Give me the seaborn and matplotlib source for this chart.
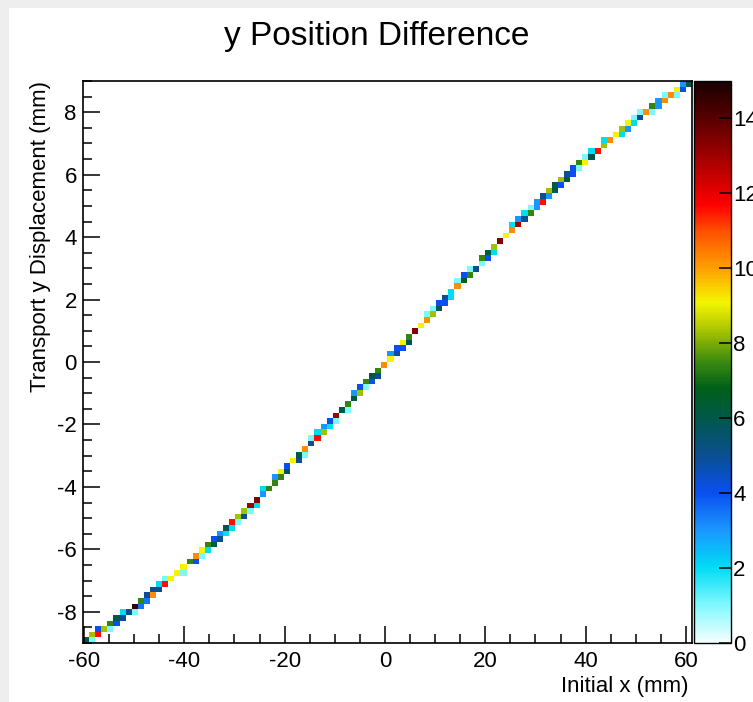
import numpy as np
import pandas as pd
import matplotlib
matplotlib.use("Agg")
import matplotlib.pyplot as plt
import seaborn as sns
from matplotlib.colors import LinearSegmentedColormap
from matplotlib.patches import Rectangle
from matplotlib.ticker import MultipleLocator

# ---------------- data ----------------
title = "y Position Difference"
x_label = "Initial x (mm)"
y_label = "Transport y Displacement (mm)"

x_range = (-60.2, 61.2)
y_range = (-9.0, 9.0)
n_xbins = 100
n_ybins = 100
z_range = (0, 15)

x_ticks = [-60, -40, -20, 0, 20, 40, 60]
y_ticks = [-8, -6, -4, -2, 0, 2, 4, 6, 8]
z_ticks = [0, 2, 4, 6, 8, 10, 12, 14]

# for every y-bin (row, bottom to top): first filled x-bin, then the cell contents
row_first_col = [0, 1, 2, 4, 5, 6, 8, 9, 10, 11,
                 12, 13, 15, 16, 17, 18, 19, 20, 21, 22,
                 23, 24, 25, 26, 27, 28, 29, 29, 31, 31,
                 32, 33, 34, 35, 36, 37, 37, 38, 39, 40,
                 41, 42, 43, 44, 44, 45, 46, 47, 48, 49,
                 50, 50, 51, 52, 53, 54, 55, 56, 56, 57,
                 58, 59, 60, 61, 61, 62, 63, 65, 65, 66,
                 67, 68, 69, 70, 70, 71, 72, 73, 74, 75,
                 76, 77, 78, 79, 80, 81, 82, 83, 85, 85,
                 87, 88, 89, 90, 91, 93, 94, 95, 97, 98]

row_values = [[6.0, 1.0], [8.3, 11.6], [4.0, 8.3, 1.0], [7.4, 4.0], [6.0, 5.0],
              [2.0, 5.0, 1.0], [14.6, 3.5], [7.4, 3.5], [5.0, 10.2], [5.0, 5.0],
              [2.0, 11.6], [1.0, 9.1], [9.1, 1.0], [9.1], [7.4, 4.0],
              [10.2, 1.0], [9.1, 2.0], [7.4, 6.0], [4.0, 5.0], [3.0, 2.0],
              [6.0, 2.0], [11.6, 1.0], [8.3, 5.0], [8.3, 1.0], [13.0, 2.0],
              [13.4], [3.0], [2.0, 7.4], [7.4], [3.0, 7.4],
              [9.1, 6.0], [4.0], [9.1, 5.0], [6.0, 1.0], [10.2],
              [5.0], [1.0, 11.6], [2.0, 8.3], [3.0, 2.0], [4.0, 1.0],
              [13.0], [6.0, 1.0], [7.4], [6.0], [3.0, 8.3],
              [4.0, 1.0], [7.4, 4.0], [6.0, 5.0], [7.4], [10.2],
              [9.1], [3.0, 5.0], [4.0, 4.0], [9.1, 6.0], [7.4],
              [13.4], [9.1], [10.2], [1.0, 8.3], [1.0, 6.0],
              [4.0, 4.0], [5.0, 2.0], [2.0], [10.2], [1.0, 6.8],
              [4.0, 7.4], [1.0, 5.0], [1.0], [7.4, 4.0], [6.0, 2.0],
              [8.3], [13.4], [9.1], [10.2], [2.0, 13.0],
              [3.0, 5.0], [2.0, 7.4], [1.0, 3.0], [3.0, 11.6], [5.0, 3.0],
              [8.3, 6.0], [6.0, 4.0], [8.3, 6.0], [5.0, 4.0], [4.0, 1.0],
              [7.4, 9.1], [1.0, 6.0], [2.0, 11.6], [8.3], [2.0, 10.2],
              [9.1, 2.0], [8.3, 3.0], [9.1, 2.0], [1.0, 5.0], [1.0, 10.2, 1.0],
              [7.4, 3.0], [3.0, 10.2], [1.0, 10.2, 1.0], [9.1, 4.0], [3.0, 6.0]]

# ---------------- build the histogram entries ----------------
x_edges = np.linspace(x_range[0], x_range[1], n_xbins + 1)
y_edges = np.linspace(y_range[0], y_range[1], n_ybins + 1)
x_centers = 0.5 * (x_edges[:-1] + x_edges[1:])
y_centers = 0.5 * (y_edges[:-1] + y_edges[1:])

records = []
for r, (c0, vals) in enumerate(zip(row_first_col, row_values)):
    for i, v in enumerate(vals):
        records.append((x_centers[c0 + i], y_centers[r], v))
df = pd.DataFrame(records, columns=["x", "y", "w"])

# ROOT-like palette
stops = [(0.0, "#f4ffff"), (1.0, "#7ef8ff"), (2.0, "#00dcf4"), (3.0, "#1a96ff"),
         (4.0, "#0a4ff0"), (5.0, "#0a4f90"), (6.0, "#00584a"), (6.8, "#006018"),
         (7.5, "#3a8a10"), (8.4, "#b0c800"), (9.1, "#f5f500"), (10.0, "#ffa000"),
         (11.0, "#ff5000"), (11.7, "#ff0000"), (13.0, "#a00000"), (14.0, "#5a0000"),
         (15.0, "#1a0000")]
cmap = LinearSegmentedColormap.from_list(
    "rootpal", [(v / z_range[1], c) for v, c in stops])

# ---------------- figure ----------------
W, H = 753, 702
plt.rcParams["font.family"] = ["Liberation Sans", "DejaVu Sans"]
plt.rcParams["axes.unicode_minus"] = False
fig = plt.figure(figsize=(W / 100, H / 100), dpi=100, facecolor="#eeeeee")
fig.patches.append(Rectangle((9 / W, 0), 1, 1 - 8 / H, transform=fig.transFigure,
                             facecolor="white", edgecolor="none", zorder=-10))

ax = fig.add_axes([83 / W, 1 - 643 / H, 609 / W, 562 / H])
cax = fig.add_axes([694 / W, 1 - 643 / H, 37 / W, 562 / H])

sns.histplot(data=df, x="x", y="y", weights="w", bins=[x_edges, y_edges],
             cmap=cmap, vmin=z_range[0], vmax=z_range[1],
             cbar=True, cbar_ax=cax, ax=ax)

ax.set_xlim(*x_range)
ax.set_ylim(*y_range)
ax.set_facecolor("white")
ax.set_xticks(x_ticks)
ax.set_yticks(y_ticks)
ax.xaxis.set_minor_locator(MultipleLocator(5))
ax.yaxis.set_minor_locator(MultipleLocator(0.5))
ax.tick_params(which="major", direction="in", length=12.5, width=1.1,
               labelsize=16, colors="black")
ax.tick_params(which="minor", direction="in", length=6.2, width=1.1)
ax.tick_params(axis="x", which="both", pad=5.5, top=False)
ax.tick_params(axis="y", which="both", pad=4.5, right=False)
for sp in ax.spines.values():
    sp.set_visible(True)
    sp.set_color("black")
    sp.set_linewidth(1.2)

ax.set_xlabel(x_label, fontsize=16, loc="right")
ax.set_ylabel(y_label, fontsize=16, loc="top")
ax.xaxis.set_label_coords(0.995, -0.058)
ax.yaxis.set_label_coords(-0.052, 1.0)

cax.set_ylim(*z_range)
cax.set_yticks(z_ticks)
cax.tick_params(axis="y", direction="in", length=9, width=1.1, labelsize=16,
                pad=1.5, right=True, left=False)
cax.minorticks_off()
for sp in cax.spines.values():
    sp.set_color("black")
    sp.set_linewidth(1.0)

fig.text(0.5, 1 - 45 / H, title, ha="center", va="baseline", fontsize=24)

fig.savefig("out.png", dpi=100, facecolor=fig.get_facecolor())
